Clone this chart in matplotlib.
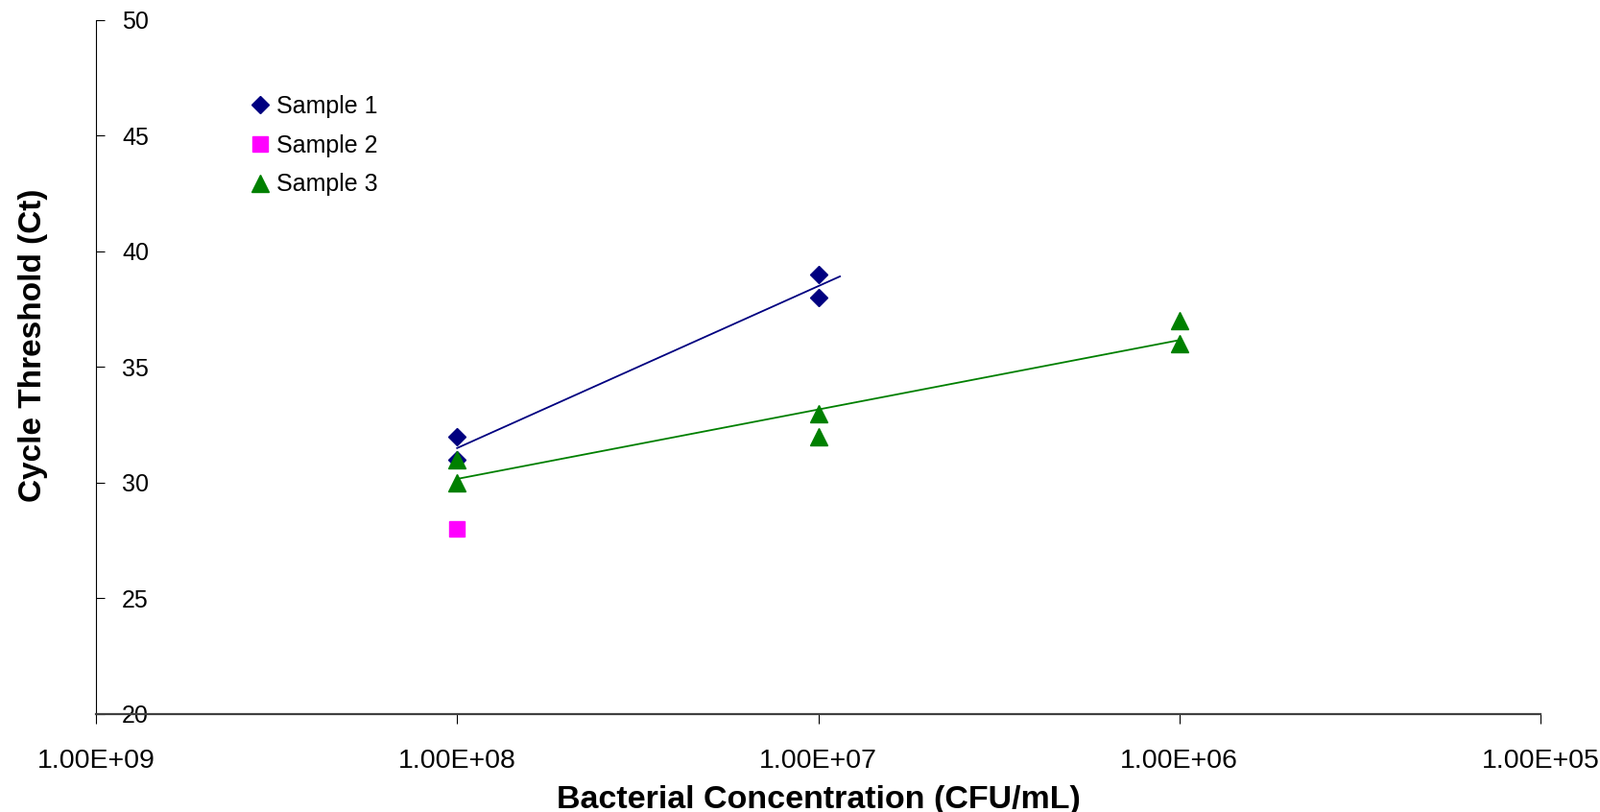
import matplotlib
matplotlib.use('Agg')
import matplotlib.pyplot as plt
from matplotlib.ticker import FixedLocator, FixedFormatter, NullLocator
import numpy as np

plt.rcParams['font.family'] = ['Liberation Sans', 'DejaVu Sans']

# data
s1_x = [1e8, 1e8, 1e7, 1e7]
s1_y = [32, 31, 39, 38]
s2_x = [1e8]
s2_y = [28]
s3_x = [1e8, 1e8, 1e7, 1e7, 1e6, 1e6]
s3_y = [31, 30, 33, 32, 37, 36]

x_ticks = [1e9, 1e8, 1e7, 1e6, 1e5]
x_labels = ['1.00E+09', '1.00E+08', '1.00E+07', '1.00E+06', '1.00E+05']
y_ticks = [20, 25, 30, 35, 40, 45, 50]

navy = '#000080'
magenta = '#FF00FF'
green = '#008000'


def log_trend(xs, ys, x_start, x_end):
    # linear fit of y against log10(x), like excel's log trendline
    lx = np.log10(xs)
    k, b = np.polyfit(lx, ys, 1)
    xx = np.logspace(np.log10(x_start), np.log10(x_end), 50)
    return xx, k * np.log10(xx) + b


fig = plt.figure(figsize=(16.67, 8.46), dpi=100)
ax = fig.add_axes([0.060, 0.1206, 0.9028, 0.8546])

# trendlines
tx, ty = log_trend(s1_x, s1_y, 1e8, 10 ** 6.94)
ax.plot(tx, ty, color=navy, lw=1.3, zorder=2)
tx, ty = log_trend(s3_x, s3_y, 1e8, 1e6)
ax.plot(tx, ty, color=green, lw=1.3, zorder=2)

ax.plot(s1_x, s1_y, 'D', color=navy, ms=9, ls='none', label='Sample 1', zorder=3)
ax.plot(s2_x, s2_y, 's', color=magenta, ms=12, ls='none', label='Sample 2', zorder=3)
ax.plot(s3_x, s3_y, '^', color=green, ms=13.5, ls='none', label='Sample 3', zorder=3)

ax.set_xscale('log')
ax.set_xlim(1e9, 1e5)
ax.set_ylim(20, 50)
ax.xaxis.set_major_locator(FixedLocator(x_ticks))
ax.xaxis.set_major_formatter(FixedFormatter(x_labels))
ax.xaxis.set_minor_locator(NullLocator())
ax.set_yticks(y_ticks)

ax.spines['top'].set_visible(False)
ax.spines['right'].set_visible(False)
ax.spines['left'].set_linewidth(0.8)
ax.spines['bottom'].set_linewidth(1.6)
ax.spines['bottom'].set_color('#404040')

ax.tick_params(axis='x', direction='out', length=7, width=0.8, labelsize=20.5, pad=19)
ax.tick_params(axis='y', direction='in', length=6.5, width=0.8, labelsize=18, pad=-19.5)
for lab in ax.get_yticklabels():
    lab.set_horizontalalignment('left')

ax.set_xlabel('Bacterial Concentration (CFU/mL)', fontsize=24.5, fontweight='bold', labelpad=8.5)
ax.set_ylabel('Cycle Threshold (Ct)', fontsize=24, fontweight='bold')
ax.yaxis.set_label_coords(-0.0335, 0.531)

ax.legend(loc='upper left', bbox_to_anchor=(0.1006, 0.906), frameon=False, fontsize=18,
          handlelength=0.8, handletextpad=0.26, labelspacing=0.67, borderaxespad=0)

fig.savefig('out.png', dpi=100, facecolor='white')
